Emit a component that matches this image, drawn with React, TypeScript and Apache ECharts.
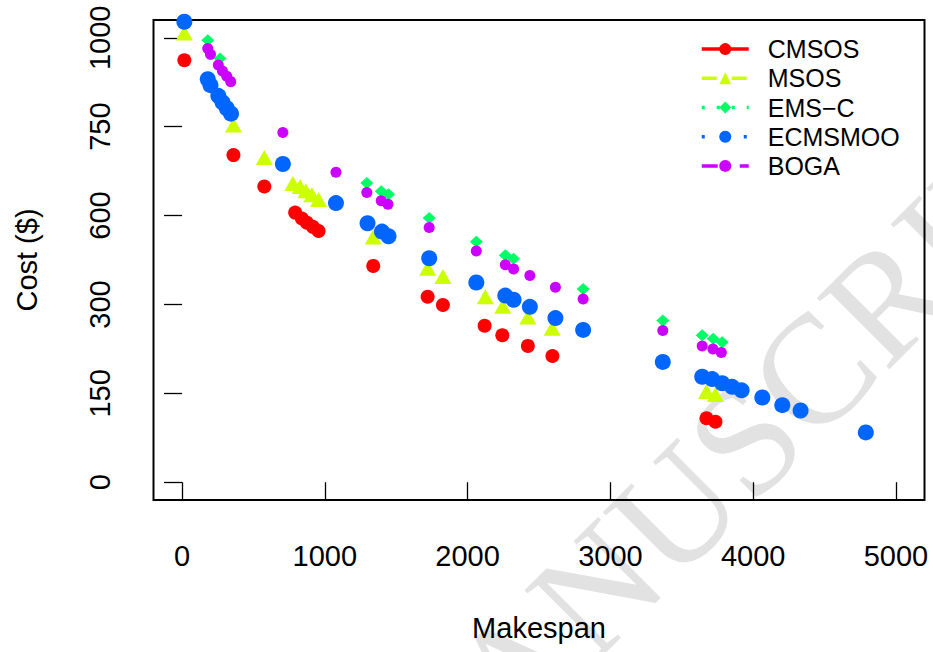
import React, { useEffect, useRef } from "react";
import * as echarts from "echarts";

// Y values are in the plot's axis-position units (ticks evenly spaced at 0..750,
// labelled 0,150,300,600,750,1000 as in the original figure).
const seriesNames = ["CMSOS", "MSOS", "EMS\u2212C", "ECMSMOO", "BOGA"];
const seriesColors = ["#FF0000", "#CCFF00", "#00FF66", "#0066FF", "#CC00FF"];

const cmsosX = [16, 360, 576, 792, 839, 874, 916, 956, 1339, 1720, 1827, 2119, 2243, 2422, 2594, 3673, 3736];
const cmsosY = [712, 552, 499, 455, 445, 438, 431, 424, 365, 313, 299, 264, 248, 230, 213, 108, 102];

const msosX = [16, 360, 576, 776, 827, 867, 909, 956, 1339, 1720, 1827, 2124, 2246, 2422, 2592, 3673, 3736];
const msosY = [758, 603, 548, 504, 499, 492, 485, 477, 414, 361, 347, 313, 297, 279, 260, 153, 148];

const emscX = [180, 266, 1294, 1395, 1446, 1731, 2061, 2264, 2322, 2809, 3367, 3643, 3720, 3783];
const emscY = [746, 715, 505, 491, 486, 446, 406, 383, 377, 326, 273, 248, 242, 236];

const ecmsmooX = [16, 180, 199, 254, 283, 313, 343, 706, 1078, 1299, 1400, 1446, 1731, 2061, 2264, 2322, 2436, 2615, 2809, 3367, 3643, 3713, 3783, 3853, 3919, 4064, 4204, 4332, 4789];
const ecmsmooY = [777, 680, 670, 652, 641, 631, 622, 537, 471, 437, 423, 415, 378, 337, 315, 308, 296, 277, 257, 203, 178, 174, 167, 161, 155, 143, 130, 121, 84];

const bogaX = [180, 199, 254, 283, 313, 341, 706, 1078, 1294, 1395, 1442, 1731, 2061, 2264, 2322, 2436, 2615, 2809, 3367, 3643, 3718, 3777];
const bogaY = [732, 722, 704, 694, 685, 676, 590, 523, 489, 475, 469, 430, 390, 367, 360, 349, 329, 309, 256, 230, 225, 219];

const xTicks = [0, 1000, 2000, 3000, 4000, 5000];
const yTickPositions = [0, 150, 300, 450, 600, 750];
const yTickLabels = ["0", "150", "300", "600", "750", "1000"];

const FONT = "'Liberation Sans', Arial, Helvetica, sans-serif";

const pairs = (xs: number[], ys: number[]) => xs.map((x, i) => [x, ys[i]]);

export default function App() {
  const ref = useRef<HTMLDivElement>(null);
  useEffect(() => {
    document.body.style.margin = "0";
    if (!ref.current) return;
    const chart = echarts.init(ref.current, undefined, { renderer: "svg" });

    const xs = [cmsosX, msosX, emscX, ecmsmooX, bogaX];
    const ys = [cmsosY, msosY, emscY, ecmsmooY, bogaY];
    const symbols = ["circle", "triangle", "diamond", "circle", "circle"];
    const sizes: any[] = [14, [17, 15], [13, 12], 16, 11];
    const legendDash: any[] = ["solid", [15, 15], [3, 12], [3, 18], [16, 6, 4, 12]];

    const series = seriesNames.map((name, i) => ({
      name,
      type: "line",
      data: pairs(xs[i], ys[i]),
      symbol: symbols[i],
      symbolSize: sizes[i],
      showSymbol: true,
      lineStyle: { opacity: 0, width: 0, color: seriesColors[i] },
      itemStyle: { color: seriesColors[i], borderWidth: 0, opacity: 1 },
      emphasis: { disabled: true },
      z: 2 + i,
    }));

    chart.setOption({
      animation: false,
      backgroundColor: "#ffffff",
      textStyle: { fontFamily: FONT },
      grid: {
        left: 153.5,
        right: 8.5,
        top: 20,
        bottom: 152,
        show: true,
        borderColor: "#000",
        borderWidth: 2,
        backgroundColor: "transparent",
        containLabel: false,
        outerBoundsMode: "none",
      },
      xAxis: {
        type: "value",
        min: -200,
        max: 5200,
        name: "Makespan",
        nameLocation: "middle",
        nameGap: 113,
        nameTextStyle: { fontSize: 29, color: "#000", fontFamily: FONT },
        axisLine: { show: false },
        axisTick: { show: true, length: 18, customValues: xTicks, lineStyle: { color: "#000", width: 1.3 } },
        axisLabel: {
          customValues: xTicks,
          margin: 41,
          fontSize: 29,
          color: "#000",
          fontFamily: FONT,
          formatter: (v: number) => String(v),
        },
        splitLine: { show: false },
      },
      yAxis: {
        type: "value",
        min: -30,
        max: 780,
        name: "Cost ($)",
        nameLocation: "middle",
        nameRotate: 90,
        nameGap: 112,
        nameTextStyle: { fontSize: 29, color: "#000", fontFamily: FONT },
        axisLine: { show: false },
        axisTick: { show: true, length: 18, customValues: yTickPositions, lineStyle: { color: "#000", width: 1.3 } },
        axisLabel: {
          customValues: yTickPositions,
          rotate: 90,
          margin: 39,
          fontSize: 29,
          color: "#000",
          fontFamily: FONT,
          formatter: (v: number) => {
            const k = yTickPositions.indexOf(v);
            return k >= 0 ? yTickLabels[k] : "";
          },
        },
        splitLine: { show: false },
      },
      legend: {
        left: 700,
        top: 34.5,
        orient: "vertical",
        padding: 0,
        itemGap: 0,
        itemWidth: 47,
        itemHeight: 15,
        align: "left",
        textStyle: { fontSize: 25, color: "#000", fontFamily: FONT, lineHeight: 29.2, padding: [0, 0, 0, 14] },
        data: seriesNames.map((name, i) => ({
          name,
          itemStyle: { color: seriesColors[i], opacity: 1, borderWidth: 0 },
          lineStyle: { color: seriesColors[i], width: 3.5, type: legendDash[i], opacity: 1 },
        })),
      },
      graphic: {
        elements: [
          {
            type: "text",
            x: 733,
            y: 452,
            rotation: (45 * Math.PI) / 180,
            z: -10,
            silent: true,
            style: {
              text: "MANUSCRIPT",
              font: "155px 'Liberation Serif', 'Times New Roman', serif",
              fill: "#e2e2e2",
              align: "center",
              verticalAlign: "middle",
            },
          },
        ],
      },
      series,
    });
    return () => chart.dispose();
  }, []);
  return <div ref={ref} style={{ width: 933, height: 652 }} />;
}
